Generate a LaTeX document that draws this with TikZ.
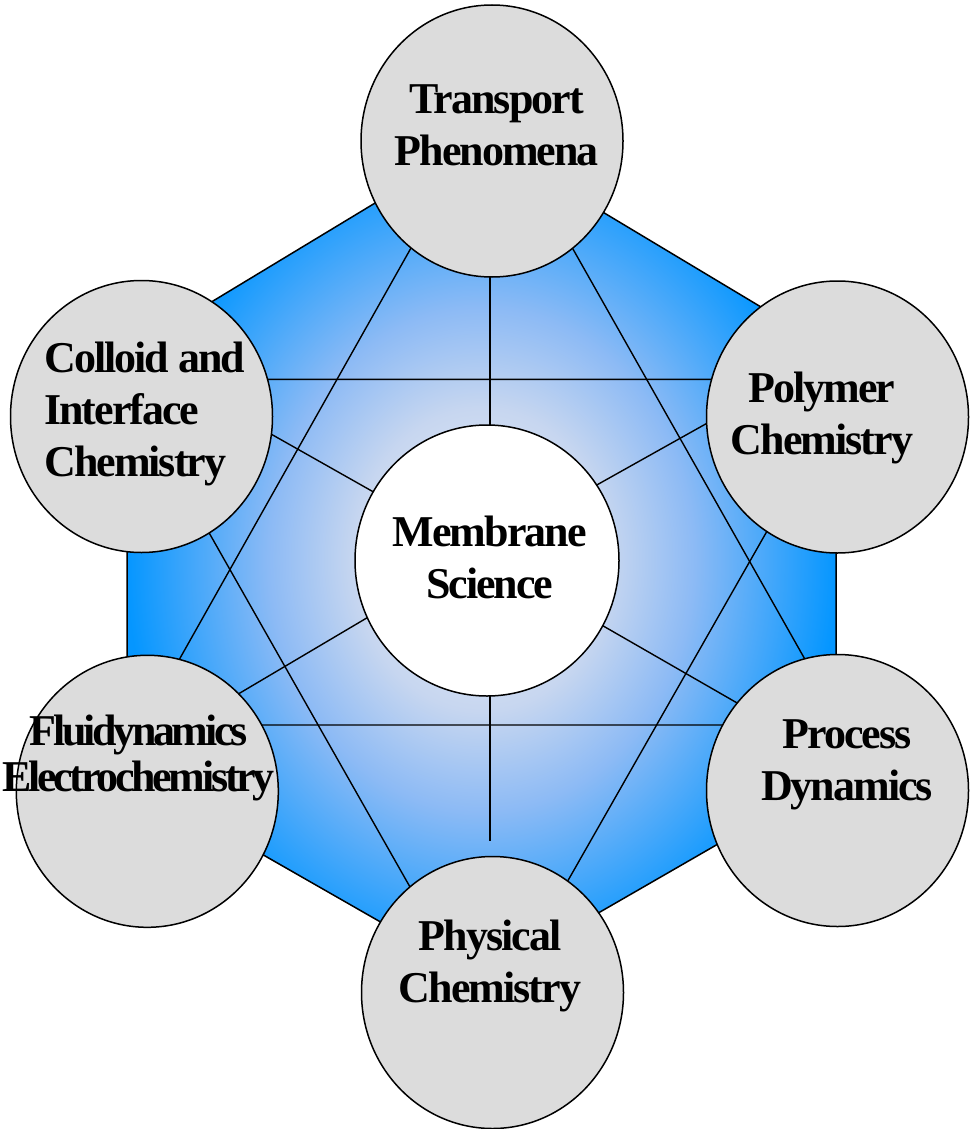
\documentclass[tikz,border=0pt]{standalone}
\usepackage{fontspec}
\usepackage{tikz}
\usepackage{xcolor}
\usetikzlibrary{shapes.geometric}
\newfontfamily\labelfont{Liberation Serif}[LetterSpace=-4.5]
\newfontfamily\tightlabelfont{Liberation Serif}[LetterSpace=-7.5]
\definecolor{topicgray}{RGB}{220,220,220}
\pgfdeclareradialshading{hex-glow}{\pgfpoint{0bp}{0bp}}{%
    rgb(0bp)=(0.93,0.95,0.99);
    rgb(9bp)=(0.78,0.84,0.94);
    rgb(15bp)=(0.55,0.73,0.96);
    rgb(25bp)=(0.02,0.59,1);
    rgb(50bp)=(0.02,0.59,1)}
\tikzset{
    topic-circle/.style = {draw=black, fill=topicgray, ellipse, line width=1.5pt, minimum width=262pt, minimum height=272pt, inner sep=0pt},
    core-circle/.style = {topic-circle, fill=white, minimum width=264pt, minimum height=271pt},
    topic-label/.style = {font=\labelfont\bfseries\fontsize{44}{52}\selectfont, align=center, anchor=base, inner sep=0pt},
    link/.style = {draw=black, line width=1.4pt},
}

\begin{document}
\begin{tikzpicture}[x=1pt, y=-1pt]
\useasboundingbox (0,0) rectangle (970,1129);

% hexagon
\shadedraw[shading=hex-glow, line width=1.5pt] (481,139) -- (836,352) -- (836,776) -- (482,980) -- (127,777) -- (127,353) -- cycle;

% the two triangles
\coordinate (star-a1) at (491.5,105);
\coordinate (star-a2) at (142.4,725);
\coordinate (star-a3) at (842.1,725);
\coordinate (star-b1) at (122,379.3);
\coordinate (star-b2) at (853.5,379.3);
\coordinate (star-b3) at (487,1022.7);
\draw[link] (star-a1) -- (star-a2) -- (star-a3) -- cycle;
\draw[link] (star-b1) -- (star-b2) -- (star-b3) -- cycle;

% spokes
\coordinate (spoke-n-out) at (490,272);
\coordinate (spoke-n-in) at (490,435);
\coordinate (spoke-s-out) at (490,841);
\coordinate (spoke-s-in) at (490,686);
\coordinate (spoke-nw-out) at (271.3,434.2);
\coordinate (spoke-nw-in) at (381.7,496.6);
\coordinate (spoke-ne-out) at (711,421);
\coordinate (spoke-ne-in) at (588,489.9);
\coordinate (spoke-sw-out) at (235.7,695.5);
\coordinate (spoke-sw-in) at (375.3,612.9);
\coordinate (spoke-se-out) at (741,705.2);
\coordinate (spoke-se-in) at (594.6,621);
\foreach \dir in {n,s,nw,ne,sw,se}
    \draw[link] (spoke-\dir-in) -- (spoke-\dir-out);

% circles
\node[topic-circle] (transport) at (492,141) {};
\node[topic-circle] (polymer) at (837.5,417) {};
\node[topic-circle] (process) at (837.5,790.5) {};
\node[topic-circle] (physical) at (492.5,992.5) {};
\node[topic-circle] (fluid) at (147.3,791.3) {};
\node[topic-circle] (colloid) at (141.5,416.5) {};
\node[core-circle] (membrane) at (487,560.5) {};

% labels (base = last line)
\node[topic-label] (transport-text) at (496.7,165.7) {Transport\\Phenomena};
\node[topic-label] (polymer-text) at (822,454) {Polymer\\Chemistry};
\node[topic-label] (process-text) at (847,800) {Process\\Dynamics};
\node[topic-label] (physical-text) at (490,1002.7) {Physical\\Chemistry};
\node[topic-label] (membrane-text) at (489.7,598.3) {Membrane\\Science};
\node[topic-label, align=left, anchor=base west] (colloid-text) at (44,476) {Colloid and\\Interface\\Chemistry};
\node[topic-label, font=\tightlabelfont\bfseries\fontsize{44}{46.7}\selectfont] (fluid-text) at (138.5,791.7) {Fluidynamics\\Electrochemistry};
\end{tikzpicture}
\end{document}
